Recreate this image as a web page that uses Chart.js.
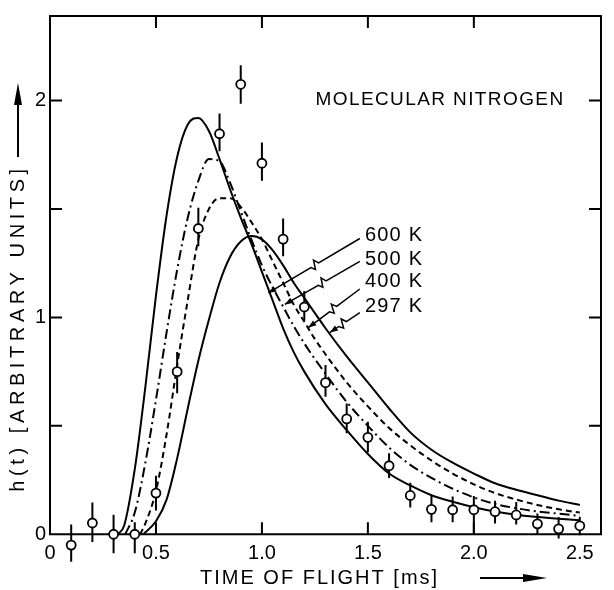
<!DOCTYPE html>
<html>
<head>
<meta charset="utf-8">
<script src="https://cdn.jsdelivr.net/npm/chart.js@4.4.1/dist/chart.umd.min.js"></script>
<style>
  html, body { margin: 0; padding: 0; background: #fff; }
</style>
</head>
<body>
<canvas id="tof" width="614" height="590"></canvas>
<script>
// measured h(t), one point every 0.1 ms, with error bar ends
const tMeas = [0.1, 0.2, 0.3, 0.4, 0.5, 0.6, 0.7, 0.8, 0.9, 1.0, 1.1, 1.2, 1.3, 1.4, 1.5, 1.6, 1.7, 1.8, 1.9, 2.0, 2.1, 2.2, 2.3, 2.4, 2.5];
const hMeas = [-0.05, 0.052, 0.0, 0.0, 0.19, 0.75, 1.41, 1.847, 2.075, 1.711, 1.361, 1.048, 0.699, 0.532, 0.447, 0.316, 0.179, 0.115, 0.113, 0.113, 0.104, 0.089, 0.048, 0.025, 0.039];
const hHi   = [0.045, 0.147, 0.09, 0.055, 0.27, 0.84, 1.506, 1.94, 2.163, 1.807, 1.456, 1.122, 0.78, 0.603, 0.519, 0.374, 0.238, 0.177, 0.174, 0.177, 0.154, 0.149, 0.096, 0.08, 0.08];
const hLo   = [-0.127, -0.036, -0.088, -0.088, 0.11, 0.65, 1.328, 1.766, 1.985, 1.63, 1.282, 0.985, 0.634, 0.466, 0.378, 0.26, 0.123, 0.055, 0.055, 0.0, 0.05, 0.045, 0.0, -0.02, -0.005];

// model curves for the four source temperatures
const t600 = [0.32, 0.35, 0.4, 0.45, 0.5, 0.55, 0.6, 0.65, 0.7, 0.75, 0.8, 0.85, 0.9, 0.95, 1.0, 1.05, 1.1, 1.15, 1.2, 1.3, 1.4, 1.5, 1.6, 1.7, 1.8, 1.9, 2.0, 2.1, 2.2, 2.3, 2.4, 2.5];
const h600 = [0, 0.04, 0.3, 0.68, 1.1, 1.47, 1.74, 1.89, 1.92, 1.86, 1.73, 1.59, 1.46, 1.34, 1.21, 1.08, 0.95, 0.84, 0.75, 0.60, 0.48, 0.37, 0.28, 0.225, 0.18, 0.15, 0.125, 0.105, 0.09, 0.08, 0.072, 0.065];

const t500 = [0.355, 0.4, 0.45, 0.5, 0.55, 0.6, 0.65, 0.7, 0.75, 0.8, 0.85, 0.9, 0.95, 1.0, 1.05, 1.1, 1.15, 1.2, 1.3, 1.4, 1.5, 1.6, 1.7, 1.8, 1.9, 2.0, 2.1, 2.2, 2.3, 2.4, 2.5];
const h500 = [0, 0.1, 0.33, 0.62, 0.93, 1.22, 1.46, 1.63, 1.73, 1.72, 1.62, 1.49, 1.36, 1.24, 1.14, 1.05, 0.96, 0.88, 0.74, 0.61, 0.50, 0.40, 0.32, 0.26, 0.21, 0.17, 0.14, 0.12, 0.105, 0.095, 0.085];

const t400 = [0.425, 0.45, 0.5, 0.55, 0.6, 0.65, 0.7, 0.75, 0.8, 0.85, 0.9, 0.95, 1.0, 1.05, 1.1, 1.15, 1.2, 1.25, 1.3, 1.4, 1.5, 1.6, 1.7, 1.8, 1.9, 2.0, 2.1, 2.2, 2.3, 2.4, 2.5];
const h400 = [0, 0.05, 0.2, 0.46, 0.78, 1.08, 1.36, 1.5, 1.55, 1.55, 1.51, 1.44, 1.36, 1.26, 1.16, 1.06, 0.98, 0.9, 0.83, 0.7, 0.59, 0.49, 0.41, 0.34, 0.28, 0.23, 0.19, 0.16, 0.135, 0.115, 0.10];

const t297 = [0.44, 0.5, 0.55, 0.6, 0.65, 0.7, 0.75, 0.8, 0.85, 0.9, 0.95, 1.0, 1.05, 1.1, 1.15, 1.2, 1.25, 1.3, 1.4, 1.5, 1.6, 1.7, 1.8, 1.9, 2.0, 2.1, 2.2, 2.3, 2.4, 2.5];
const h297 = [0, 0.06, 0.16, 0.35, 0.58, 0.8, 0.99, 1.16, 1.28, 1.35, 1.375, 1.36, 1.31, 1.24, 1.16, 1.09, 1.02, 0.95, 0.82, 0.70, 0.58, 0.47, 0.39, 0.33, 0.28, 0.235, 0.205, 0.18, 0.155, 0.135];

// axes
const xTickVals = [0, 0.5, 1, 1.5, 2, 2.5];
const xTickText = ['0', '0.5', '1.0', '1.5', '2.0', '2.5'];
const yTickVals = [0, 0.5, 1, 1.5, 2];
const yTickText = ['0', '', '1', '', '2'];

// temperature labels with leader arrows (data coords)
const tempLabels = ['600 K', '500 K', '400 K', '297 K'];
const labelAt    = [[1.486, 1.376], [1.486, 1.269], [1.486, 1.164], [1.486, 1.050]];
const leaderFrom = [[1.462, 1.364], [1.462, 1.258], [1.462, 1.131], [1.462, 1.022]];
const leaderTo   = [[1.03, 1.113], [1.108, 1.06], [1.219, 0.953], [1.321, 0.931]];

const FONT = '"Liberation Sans", Arial, sans-serif';

const pts = (xs, ys) => xs.map((t, i) => ({ x: t, y: ys[i] }));
const errBars = [];
tMeas.forEach((t, i) => { errBars.push({ x: t, y: hLo[i] }, { x: t, y: hHi[i] }, { x: t, y: null }); });

function arrowHead(ctx, fx, fy, tx, ty, len, half) {
  const a = Math.atan2(ty - fy, tx - fx);
  ctx.beginPath();
  ctx.moveTo(tx, ty);
  ctx.lineTo(tx - len * Math.cos(a) + half * Math.sin(a), ty - len * Math.sin(a) - half * Math.cos(a));
  ctx.lineTo(tx - len * Math.cos(a) - half * Math.sin(a), ty - len * Math.sin(a) + half * Math.cos(a));
  ctx.closePath();
  ctx.fill();
}

// box frame with inward ticks; the bottom edge sits at h = 0
const frame = {
  id: 'frame',
  beforeDatasetsDraw(chart) {
    const { ctx, chartArea: a, scales: { x, y } } = chart;
    const bottom = y.getPixelForValue(0);
    ctx.save();
    ctx.strokeStyle = '#000';
    ctx.lineWidth = 2;
    ctx.strokeRect(a.left, a.top, a.right - a.left, bottom - a.top);
    ctx.beginPath();
    xTickVals.filter(v => v > 0 && v < 2.5).forEach(v => {
      const px = x.getPixelForValue(v);
      ctx.moveTo(px, bottom); ctx.lineTo(px, bottom - 12);
      ctx.moveTo(px, a.top); ctx.lineTo(px, a.top + 12);
    });
    yTickVals.filter(v => v > 0).forEach(v => {
      const py = y.getPixelForValue(v);
      ctx.moveTo(a.left, py); ctx.lineTo(a.left + 12, py);
      ctx.moveTo(a.right, py); ctx.lineTo(a.right - 12, py);
    });
    ctx.stroke();

    // x tick labels under the h = 0 edge
    ctx.fillStyle = '#000';
    ctx.font = '20px ' + FONT;
    ctx.textAlign = 'center';
    ctx.textBaseline = 'middle';
    xTickVals.forEach((v, i) => ctx.fillText(xTickText[i], x.getPixelForValue(v), bottom + 19));
    ctx.restore();
  }
};

const notes = {
  id: 'notes',
  afterDraw(chart) {
    const { ctx, scales: { x, y } } = chart;
    ctx.save();
    ctx.fillStyle = '#000';
    ctx.strokeStyle = '#000';

    // species
    ctx.font = '19px ' + FONT;
    ctx.letterSpacing = '1.4px';
    ctx.textBaseline = 'middle';
    ctx.textAlign = 'left';
    ctx.fillText('MOLECULAR NITROGEN', x.getPixelForValue(1.253), y.getPixelForValue(2.005));

    // temperature leaders
    ctx.font = '20px ' + FONT;
    ctx.letterSpacing = '1.2px';
    ctx.lineWidth = 1.5;
    tempLabels.forEach((lab, i) => {
      ctx.fillText(lab, x.getPixelForValue(labelAt[i][0]), y.getPixelForValue(labelAt[i][1]));
      const sx = x.getPixelForValue(leaderFrom[i][0]), sy = y.getPixelForValue(leaderFrom[i][1]);
      const ex = x.getPixelForValue(leaderTo[i][0]), ey = y.getPixelForValue(leaderTo[i][1]);
      const dx = ex - sx, dy = ey - sy, L = Math.hypot(dx, dy);
      const ux = dx / L, uy = dy / L, nx = -uy, ny = ux;
      const ax = sx + dx * 0.45, ay = sy + dy * 0.45;
      ctx.beginPath();
      ctx.moveTo(sx, sy);
      ctx.lineTo(ax, ay);
      ctx.lineTo(ax + ux * 3 + nx * 5, ay + uy * 3 + ny * 5);
      ctx.lineTo(ax + ux * 6 - nx * 4, ay + uy * 6 - ny * 4);
      ctx.lineTo(ax + ux * 9, ay + uy * 9);
      ctx.lineTo(ex, ey);
      ctx.stroke();
      arrowHead(ctx, sx, sy, ex, ey, 8, 3);
    });

    // x title + arrow
    ctx.font = '20px ' + FONT;
    ctx.letterSpacing = '2px';
    ctx.fillText('TIME OF FLIGHT [ms]', 200, 578);
    ctx.lineWidth = 2;
    ctx.beginPath(); ctx.moveTo(480, 578); ctx.lineTo(530, 578); ctx.stroke();
    arrowHead(ctx, 480, 578, 547, 578, 24, 4);

    // y title + arrow
    ctx.save();
    ctx.translate(18, 328);
    ctx.rotate(-Math.PI / 2);
    ctx.letterSpacing = '4.6px';
    ctx.textAlign = 'center';
    ctx.fillText('h(t) [ARBITRARY UNITS]', 0, 0);
    ctx.restore();
    ctx.beginPath(); ctx.moveTo(18, 157); ctx.lineTo(18, 100); ctx.stroke();
    arrowHead(ctx, 18, 157, 18, 83, 22, 4);
    ctx.restore();
  }
};

const curve = (xs, ys, dash) => ({
  type: 'line',
  data: pts(xs, ys),
  borderColor: '#000',
  borderWidth: 2,
  borderDash: dash,
  pointRadius: 0,
  cubicInterpolationMode: 'monotone',
  order: 2
});

new Chart(document.getElementById('tof'), {
  type: 'line',
  data: {
    datasets: [
      {
        type: 'scatter',
        data: pts(tMeas, hMeas),
        showLine: false,
        pointRadius: 4.5,
        pointBackgroundColor: '#fff',
        pointBorderColor: '#000',
        pointBorderWidth: 1.8,
        clip: false,
        order: 0
      },
      {
        type: 'line',
        data: errBars,
        borderColor: '#000',
        borderWidth: 2,
        pointRadius: 0,
        spanGaps: false,
        clip: false,
        order: 1
      },
      curve(t600, h600, []),
      curve(t500, h500, [10, 4, 2, 4]),
      curve(t400, h400, [6, 4]),
      curve(t297, h297, [])
    ]
  },
  options: {
    responsive: false,
    animation: false,
    layout: { padding: { top: 11, right: 13, left: 0, bottom: 0 } },
    plugins: { legend: { display: false }, tooltip: { enabled: false } },
    scales: {
      x: {
        type: 'linear',
        min: 0,
        max: 2.6,
        afterBuildTicks: s => { s.ticks = xTickVals.map(v => ({ value: v })); },
        afterFit: s => { s.height = 27.55; },
        ticks: { display: false },
        grid: { display: false, drawTicks: false },
        border: { display: false }
      },
      y: {
        type: 'linear',
        min: -0.13,
        max: 2.39,
        afterBuildTicks: s => { s.ticks = yTickVals.map(v => ({ value: v })); },
        afterFit: s => { s.width = 50; },
        ticks: {
          callback: (v, i) => yTickText[i],
          color: '#000',
          font: { family: FONT, size: 20 },
          padding: 4,
          autoSkip: false
        },
        grid: { display: false, drawTicks: false },
        border: { display: false }
      }
    }
  },
  plugins: [frame, notes]
});
</script>
</body>
</html>
